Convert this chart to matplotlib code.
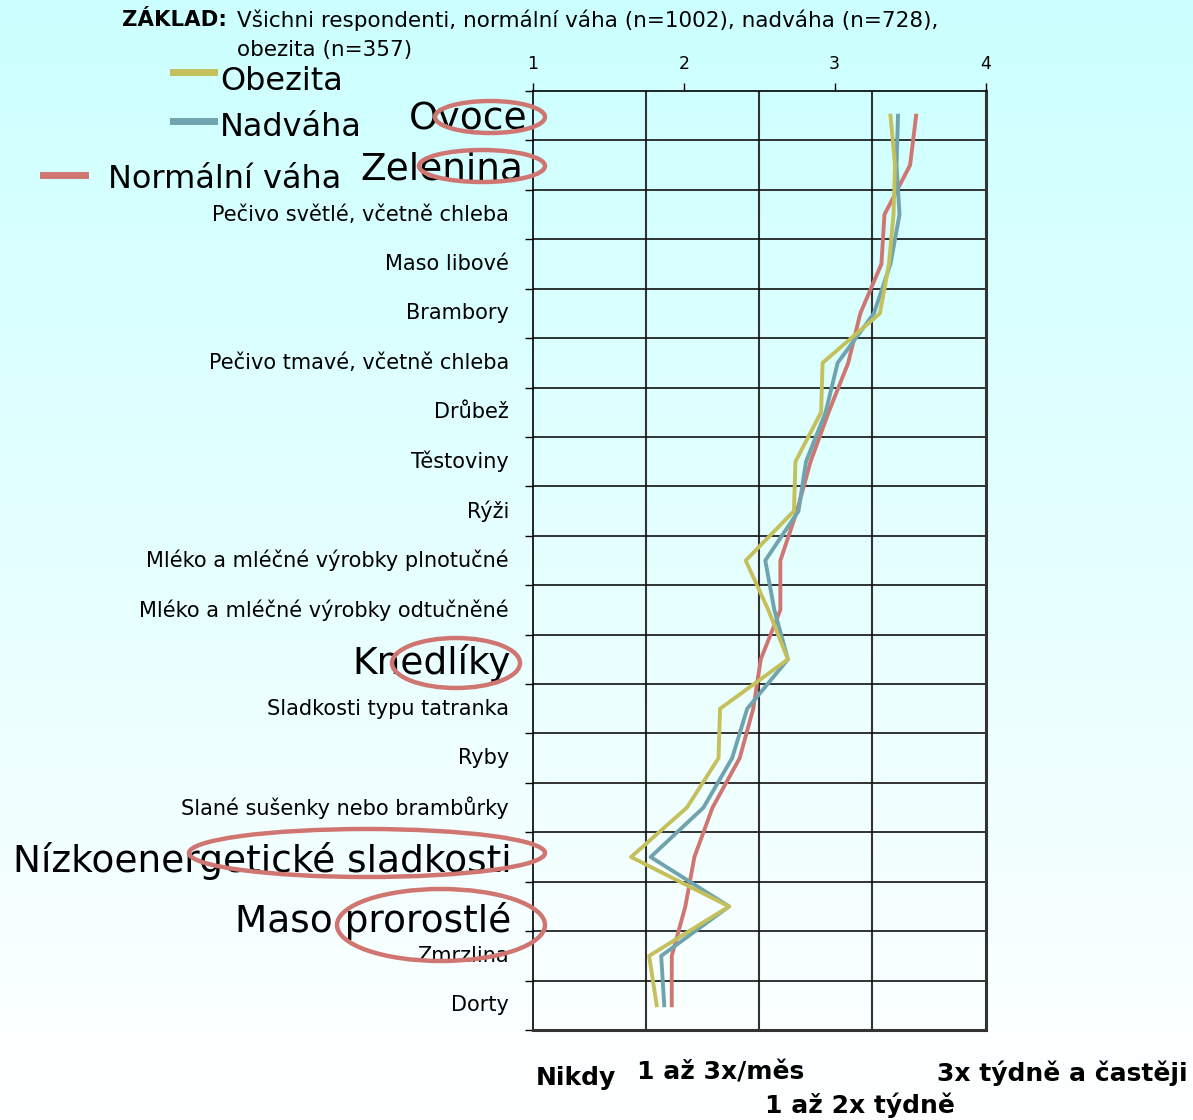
import numpy as np
import matplotlib
matplotlib.use("Agg")
import matplotlib.pyplot as plt
from matplotlib.patches import Ellipse
from matplotlib.lines import Line2D

plt.rcParams['font.family'] = ['DejaVu Sans']

# kategorie potravin (shora dolů)
categories = [
    "Ovoce", "Zelenina", "Pečivo světlé, včetně chleba", "Maso libové",
    "Brambory", "Pečivo tmavé, včetně chleba", "Drůbež", "Těstoviny", "Rýži",
    "Mléko a mléčné výrobky plnotučné", "Mléko a mléčné výrobky odtučněné",
    "Knedlíky", "Sladkosti typu tatranka", "Ryby",
    "Slané sušenky nebo brambůrky", "Nízkoenergetické sladkosti",
    "Maso prorostlé", "Zmrzlina", "Dorty",
]

# průměrná frekvence konzumace (1 = nikdy, 4 = 3x týdně a častěji)
normalni = [3.54, 3.50, 3.33, 3.31, 3.17, 3.09, 2.96, 2.84, 2.75, 2.64, 2.64,
            2.51, 2.46, 2.37, 2.19, 2.07, 2.01, 1.92, 1.92]
nadvaha = [3.42, 3.41, 3.43, 3.37, 3.26, 3.02, 2.94, 2.81, 2.76, 2.54, 2.60,
           2.69, 2.42, 2.32, 2.13, 1.78, 2.30, 1.85, 1.87]
obezita = [3.37, 3.40, 3.39, 3.36, 3.30, 2.92, 2.91, 2.74, 2.73, 2.41, 2.56,
           2.69, 2.24, 2.23, 2.02, 1.65, 2.30, 1.77, 1.82]

series_names = ["Obezita", "Nadváha", "Normální váha"]
series_colors = ["#c4c15c", "#6fa3ae", "#d07672"]

x_ticks = [1, 2, 3, 4]
scale_labels = ["Nikdy", "1 až 3x/měs", "1 až 2x týdně", "3x týdně a častěji"]

# zvýrazněné položky
big = ["Ovoce", "Zelenina", "Knedlíky", "Nízkoenergetické sladkosti", "Maso prorostlé"]

W, H = 1193, 1120
fig = plt.figure(figsize=(W / 100, H / 100), dpi=100)

def fx(px):
    return px / W

def fy(py):
    return 1 - py / H

# pozadí s přechodem
bg = fig.add_axes([0, 0, 1, 1], zorder=-10)
grad = np.linspace(0, 1, 256)[:, None]
top_c = np.array([0.80, 1.0, 1.0])
img = top_c + (1 - top_c) * grad[..., None]
img = np.repeat(img, 2, axis=1)
bg.imshow(img, aspect="auto", extent=[0, 1, 0, 1])
bg.axis("off")

ax = fig.add_axes([fx(533), fy(1030), fx(985.5) - fx(533), fy(91) - fy(1030)])
ax.set_facecolor("none")

n = len(categories)
ypos = np.arange(n) + 0.5
ax.plot(normalni, ypos, color=series_colors[2], lw=2.8, zorder=3)
ax.plot(nadvaha, ypos, color=series_colors[1], lw=2.8, zorder=4)
ax.plot(obezita, ypos, color=series_colors[0], lw=2.8, zorder=5)

ax.set_xlim(1, 4)
ax.set_ylim(n, 0)
ax.xaxis.tick_top()
ax.set_xticks(x_ticks)
ax.set_xticklabels([str(t) for t in x_ticks], fontsize=12.5)
ax.tick_params(axis="x", direction="out", length=6, width=1, pad=7)
ax.set_yticks(np.arange(n + 1))
ax.set_yticklabels([])
ax.tick_params(axis="y", direction="out", length=6, width=1)

for v in [1.75, 2.5, 3.25]:
    ax.axvline(v, color="#333333", lw=1.5, zorder=1)
for r in range(1, n):
    ax.axhline(r, color="#111111", lw=1.2, zorder=1)

for s in ["top", "left"]:
    ax.spines[s].set_linewidth(1.2)
for s in ["right", "bottom"]:
    ax.spines[s].set_linewidth(2.2)
    ax.spines[s].set_color("#333333")

# popisky kategorií
big_x = {"Ovoce": -0.013, "Zelenina": -0.022}
trans = ax.get_yaxis_transform()
for name, y in zip(categories, ypos):
    if name in big:
        dy = 0.3 if name == "Maso prorostlé" else 0.08
        ax.text(big_x.get(name, -0.048), y + dy, name, transform=trans,
                ha="right", va="center", fontsize=27, clip_on=False, zorder=6)
    else:
        ax.text(-0.053, y, name, transform=trans, ha="right", va="center",
                fontsize=15, clip_on=False, zorder=6)

# červené elipsy kolem zvýrazněných položek
ellipses = [(490, 117, 110, 32), (482, 166, 126, 32), (456, 663, 128, 50),
            (367, 853, 356, 48), (441, 925, 208, 72)]
for cx, cy, w, h in ellipses:
    fig.add_artist(Ellipse((fx(cx), fy(cy)), fx(w), h / H, transform=fig.transFigure,
                           fill=False, edgecolor="#d07672", lw=3.2, zorder=10))

# legenda
leg = [(173, 214, 72, 220, 81), (173, 214, 121, 220, 128), (43, 85, 175, 108, 180)]
for (x0, x1, ly, tx, ty), name, col in zip(leg, series_names, series_colors):
    fig.add_artist(Line2D([fx(x0), fx(x1)], [fy(ly), fy(ly)], color=col, lw=5,
                          transform=fig.transFigure))
    fig.text(fx(tx), fy(ty), name, fontsize=23, va="center", ha="left")

# základ
fig.text(fx(122), fy(20), "ZÁKLAD:", fontsize=15.3, fontweight="bold", va="center")
fig.text(fx(237), fy(20), "Všichni respondenti, normální váha (n=1002), nadváha (n=728),",
         fontsize=15.5, va="center")
fig.text(fx(237), fy(50), "obezita (n=357)", fontsize=15.5, va="center")

# popisky škály
fs = 18
fig.text(fx(536), fy(1078), scale_labels[0], fontsize=fs, fontweight="bold", va="center")
fig.text(fx(637), fy(1073), scale_labels[1], fontsize=fs, fontweight="bold", va="center")
fig.text(fx(860), fy(1105), scale_labels[2], fontsize=fs, fontweight="bold", va="center", ha="center")
fig.text(fx(1188), fy(1073), scale_labels[3], fontsize=fs, fontweight="bold", va="center", ha="right")

fig.savefig("out.png", dpi=100)
plt.close(fig)
